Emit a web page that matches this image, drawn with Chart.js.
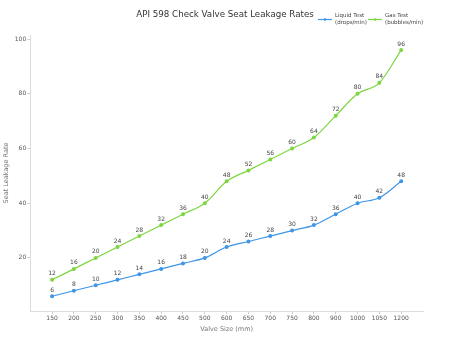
<!DOCTYPE html>
<html>
<head>
<meta charset="utf-8">
<script src="https://cdn.jsdelivr.net/npm/chart.js@4/dist/chart.umd.min.js"></script>
<style>
html,body{margin:0;padding:0;background:#fff;}
#wrap{width:450px;height:338px;}
</style>
</head>
<body>
<div id="wrap"><canvas id="leakChart" width="450" height="338"></canvas></div>
<script>
// valve sizes and leakage rates
var sizes = ['150','200','250','300','350','400','450','500','600','650','700','750','800','900','1000','1050','1200'];
var liquidRate = [6,8,10,12,14,16,18,20,24,26,28,30,32,36,40,42,48];
var gasRate = [12,16,20,24,28,32,36,40,48,52,56,60,64,72,80,84,96];
var yTicks = [20,40,60,80,100];

var blue = '#3f95e6';
var green = '#7dd640';
var FONT = 'DejaVu Sans';

function pts(arr){ return arr.map(function(v,i){ return {x:i, y:v}; }); }

// numbers above each point
var valueLabels = {
  id:'valueLabels',
  afterDatasetsDraw:function(chart){
    var ctx = chart.ctx;
    ctx.save();
    ctx.font = '6px "' + FONT + '"';
    ctx.fillStyle = '#444';
    ctx.textAlign = 'center';
    ctx.textBaseline = 'bottom';
    chart.data.datasets.forEach(function(ds,di){
      chart.getDatasetMeta(di).data.forEach(function(p,i){
        ctx.fillText(ds.data[i].y, p.x, p.y - 3);
      });
    });
    ctx.restore();
  }
};

// title centred on the canvas, legend at the right of the same row
var header = {
  id:'header',
  afterDraw:function(chart){
    var ctx = chart.ctx;
    ctx.save();
    ctx.font = '8.7px "' + FONT + '"';
    ctx.fillStyle = '#333';
    ctx.textAlign = 'center';
    ctx.textBaseline = 'middle';
    ctx.fillText('API 598 Check Valve Seat Leakage Rates', chart.width / 2, 15);

    var items = [
      {c:blue, t:['Liquid Test','(drops/min)'], x:318},
      {c:green, t:['Gas Test','(bubbles/min)'], x:368}
    ];
    ctx.font = '5.5px "' + FONT + '"';
    ctx.textAlign = 'left';
    items.forEach(function(it){
      ctx.strokeStyle = it.c;
      ctx.fillStyle = it.c;
      ctx.lineWidth = 1.2;
      ctx.beginPath();
      ctx.moveTo(it.x, 19.5); ctx.lineTo(it.x + 14, 19.5);
      ctx.stroke();
      ctx.beginPath();
      ctx.arc(it.x + 7, 19.5, 1.3, 0, Math.PI*2);
      ctx.fill();
      ctx.fillStyle = '#444';
      ctx.fillText(it.t[0], it.x + 17, 15.5);
      ctx.fillText(it.t[1], it.x + 17, 23);
    });
    ctx.restore();
  }
};

new Chart(document.getElementById('leakChart'), {
  type:'line',
  data:{
    datasets:[
      {label:'Liquid Test (drops/min)', data:pts(liquidRate), borderColor:blue, backgroundColor:blue,
       borderWidth:1.2, pointRadius:1.4, pointHoverRadius:1.4, cubicInterpolationMode:'monotone'},
      {label:'Gas Test (bubbles/min)', data:pts(gasRate), borderColor:green, backgroundColor:green,
       borderWidth:1.2, pointRadius:1.4, pointHoverRadius:1.4, cubicInterpolationMode:'monotone'}
    ]
  },
  options:{
    responsive:false,
    animation:false,
    layout:{padding:{left:2,right:27,top:35,bottom:5}},
    plugins:{
      title:{display:false},
      legend:{display:false},
      tooltip:{enabled:false}
    },
    scales:{
      x:{
        type:'linear', min:-1, max:17,
        afterBuildTicks:function(ax){ ax.ticks = sizes.map(function(s,i){ return {value:i}; }); },
        ticks:{callback:function(v){ return sizes[v]; }, color:'#555', font:{family:FONT,size:6}, padding:1, maxRotation:0, autoSkip:false},
        grid:{display:true, drawOnChartArea:false, tickLength:3, color:'#ccc'},
        border:{color:'#ddd'},
        title:{display:true, text:'Valve Size (mm)', color:'#777', font:{family:FONT,size:6.5}, padding:{top:2,bottom:0}}
      },
      y:{
        min:0.6, max:101.5,
        afterBuildTicks:function(ax){ ax.ticks = yTicks.map(function(v){ return {value:v}; }); },
        ticks:{color:'#555', font:{family:FONT,size:6}, padding:1},
        grid:{display:true, drawOnChartArea:false, tickLength:3, color:'#ccc'},
        border:{color:'#ddd'},
        title:{display:true, text:'Seat Leakage Rate', color:'#777', font:{family:FONT,size:6.5}, padding:{top:0,bottom:4}}
      }
    }
  },
  plugins:[valueLabels, header]
});
</script>
</body>
</html>
